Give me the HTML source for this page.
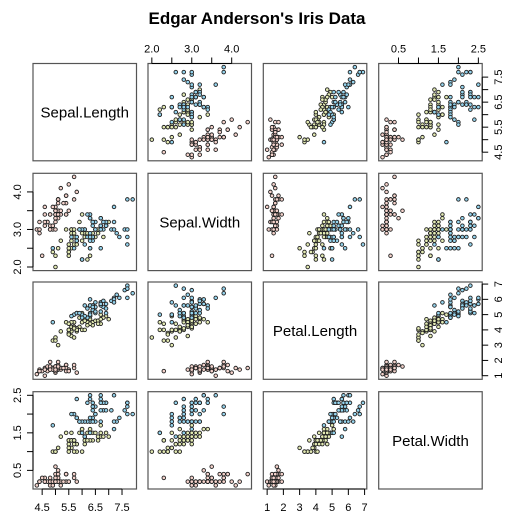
<!DOCTYPE html>
<html><head><meta charset="utf-8"><style>
body{margin:0;background:#fff}
svg{display:block;font-family:"Liberation Sans",Arial,sans-serif}
</style></head><body>
<svg id="c" width="514" height="525" viewBox="0 0 514 525">
<text x="257" y="24" text-anchor="middle" font-size="17" font-weight="bold">Edgar Anderson's Iris Data</text>
</svg>
<script>
const varNames=["Sepal.Length","Sepal.Width","Petal.Length","Petal.Width"];
const species=["setosa","versicolor","virginica"];
const speciesColors=["#f5d3cc","#e4ebb4","#95d4ee"];
const sepalLength=[5.1,4.9,4.7,4.6,5.0,5.4,4.6,5.0,4.4,4.9,5.4,4.8,4.8,4.3,5.8,5.7,5.4,5.1,5.7,5.1,5.4,5.1,4.6,5.1,4.8,5.0,5.0,5.2,5.2,4.7,4.8,5.4,5.2,5.5,4.9,5.0,5.5,4.9,4.4,5.1,5.0,4.5,4.4,5.0,5.1,4.8,5.1,4.6,5.3,5.0,
7.0,6.4,6.9,5.5,6.5,5.7,6.3,4.9,6.6,5.2,5.0,5.9,6.0,6.1,5.6,6.7,5.6,5.8,6.2,5.6,5.9,6.1,6.3,6.1,6.4,6.6,6.8,6.7,6.0,5.7,5.5,5.5,5.8,6.0,5.4,6.0,6.7,6.3,5.6,5.5,5.5,6.1,5.8,5.0,5.6,5.7,5.7,6.2,5.1,5.7,
6.3,5.8,7.1,6.3,6.5,7.6,4.9,7.3,6.7,7.2,6.5,6.4,6.8,5.7,5.8,6.4,6.5,7.7,7.7,6.0,6.9,5.6,7.7,6.3,6.7,7.2,6.2,6.1,6.4,7.2,7.4,7.9,6.4,6.3,6.1,7.7,6.3,6.4,6.0,6.9,6.7,6.9,5.8,6.8,6.7,6.7,6.3,6.5,6.2,5.9];
const sepalWidth=[3.5,3.0,3.2,3.1,3.6,3.9,3.4,3.4,2.9,3.1,3.7,3.4,3.0,3.0,4.0,4.4,3.9,3.5,3.8,3.8,3.4,3.7,3.6,3.3,3.4,3.0,3.4,3.5,3.4,3.2,3.1,3.4,4.1,4.2,3.1,3.2,3.5,3.6,3.0,3.4,3.5,2.3,3.2,3.5,3.8,3.0,3.8,3.2,3.7,3.3,
3.2,3.2,3.1,2.3,2.8,2.8,3.3,2.4,2.9,2.7,2.0,3.0,2.2,2.9,2.9,3.1,3.0,2.7,2.2,2.5,3.2,2.8,2.5,2.8,2.9,3.0,2.8,3.0,2.9,2.6,2.4,2.4,2.7,2.7,3.0,3.4,3.1,2.3,3.0,2.5,2.6,3.0,2.6,2.3,2.7,3.0,2.9,2.9,2.5,2.8,
3.3,2.7,3.0,2.9,3.0,3.0,2.5,2.9,2.5,3.6,3.2,2.7,3.0,2.5,2.8,3.2,3.0,3.8,2.6,2.2,3.2,2.8,2.8,2.7,3.3,3.2,2.8,3.0,2.8,3.0,2.8,3.8,2.8,2.8,2.6,3.0,3.4,3.1,3.0,3.1,3.1,3.1,2.7,3.2,3.3,3.0,2.5,3.0,3.4,3.0];
const petalLength=[1.4,1.4,1.3,1.5,1.4,1.7,1.4,1.5,1.4,1.5,1.5,1.6,1.4,1.1,1.2,1.5,1.3,1.4,1.7,1.5,1.7,1.5,1.0,1.7,1.9,1.6,1.6,1.5,1.4,1.6,1.6,1.5,1.5,1.4,1.5,1.2,1.3,1.4,1.3,1.5,1.3,1.3,1.3,1.6,1.9,1.4,1.6,1.4,1.5,1.4,
4.7,4.5,4.9,4.0,4.6,4.5,4.7,3.3,4.6,3.9,3.5,4.2,4.0,4.7,3.6,4.4,4.5,4.1,4.5,3.9,4.8,4.0,4.9,4.7,4.3,4.4,4.8,5.0,4.5,3.5,3.8,3.7,3.9,5.1,4.5,4.5,4.7,4.4,4.1,4.0,4.4,4.6,4.0,3.3,4.2,4.2,4.2,4.3,3.0,4.1,
6.0,5.1,5.9,5.6,5.8,6.6,4.5,6.3,5.8,6.1,5.1,5.3,5.5,5.0,5.1,5.3,5.5,6.7,6.9,5.0,5.7,4.9,6.7,4.9,5.7,6.0,4.8,4.9,5.6,5.8,6.1,6.4,5.6,5.1,5.6,6.1,5.6,5.5,4.8,5.4,5.6,5.1,5.1,5.9,5.7,5.2,5.0,5.2,5.4,5.1];
const petalWidth=[0.2,0.2,0.2,0.2,0.2,0.4,0.3,0.2,0.2,0.1,0.2,0.2,0.1,0.1,0.2,0.4,0.4,0.3,0.3,0.3,0.2,0.4,0.2,0.5,0.2,0.2,0.4,0.2,0.2,0.2,0.2,0.4,0.1,0.2,0.2,0.2,0.2,0.1,0.2,0.2,0.3,0.3,0.2,0.6,0.4,0.3,0.2,0.2,0.2,0.2,
1.4,1.5,1.5,1.3,1.5,1.3,1.6,1.0,1.3,1.4,1.0,1.5,1.0,1.4,1.3,1.4,1.5,1.0,1.5,1.1,1.8,1.3,1.5,1.2,1.3,1.4,1.4,1.7,1.5,1.0,1.1,1.0,1.2,1.6,1.5,1.6,1.5,1.3,1.3,1.3,1.2,1.4,1.2,1.0,1.3,1.2,1.3,1.3,1.1,1.3,
2.5,1.9,2.1,1.8,2.2,2.1,1.7,1.8,1.8,2.5,2.0,1.9,2.1,2.0,2.4,2.3,1.8,2.2,2.3,1.5,2.3,2.0,2.0,1.8,2.1,1.8,1.8,1.8,2.1,1.6,1.9,2.0,2.2,1.5,1.4,2.3,2.4,1.8,1.8,2.1,2.4,2.3,1.9,2.3,2.5,2.3,1.9,2.0,2.3,1.8];
const ticks=[[4.5,5,5.5,6,6.5,7,7.5],[2,2.5,3,3.5,4],[1,2,3,4,5,6,7],[0.5,1,1.5,2,2.5]];
const tickLabels=[["4.5","","5.5","","6.5","","7.5"],["2.0","","3.0","","4.0"],["1","2","3","4","5","6","7"],["0.5","","1.5","","2.5"]];

const cols=[sepalLength,sepalWidth,petalLength,petalWidth];
const NS="http://www.w3.org/2000/svg";
const svg=document.getElementById('c');
const PX=[33,148,263.3,378.7],PY=[63.5,173.3,282,391.7],PW=103.5,PH=97.3;
function mk(t,a,p){const e=document.createElementNS(NS,t);for(const k in a)e.setAttribute(k,a[k]);(p||svg).appendChild(e);return e;}
const rng=cols.map(v=>{const mn=Math.min(...v),mx=Math.max(...v),d=mx-mn;return [mn-0.04*d,mx+0.04*d];});
function sx(j,v){return PX[j]+(v-rng[j][0])/(rng[j][1]-rng[j][0])*PW;}
function sy(i,v){return PY[i]+PH-(v-rng[i][0])/(rng[i][1]-rng[i][0])*PH;}
const spIdx=k=>k<50?0:(k<100?1:2);
for(let i=0;i<4;i++)for(let j=0;j<4;j++){
  const g=mk('g',{});
  
  
  mk('rect',{x:PX[j],y:PY[i],width:PW,height:PH,fill:'#fff',stroke:'#555','stroke-width':1.2},g);
  if(i===j){
    const t=mk('text',{x:PX[j]+PW/2,y:PY[i]+PH/2+5.5,'text-anchor':'middle','font-size':15},g);
    t.textContent=varNames[i];
    
    
    continue;
  }
  const xs=cols[j],ys=cols[i];
  for(let k=0;k<150;k++){
    const c=mk('circle',{cx:sx(j,xs[k]).toFixed(2),cy:sy(i,ys[k]).toFixed(2),r:1.8,fill:speciesColors[spIdx(k)],stroke:'#222','stroke-width':0.9},g);
    
    
  }
}
function axisX(j,top){
  const y=top?PY[0]:PY[3]+PH;const d=top?-1:1;
  const g=mk('g',{stroke:'#000','stroke-width':1});
  
  
  const t=ticks[j];
  mk('line',{x1:sx(j,t[0]),x2:sx(j,t[t.length-1]),y1:y,y2:y},g);
  t.forEach((v,n)=>{const x=sx(j,v);mk('line',{x1:x,x2:x,y1:y,y2:y+6*d},g);
    if(tickLabels[j][n]){const tx=mk('text',{x:x,y:top?y-11:y+22,'text-anchor':'middle','font-size':11,stroke:'none',fill:'#000'},g);tx.textContent=tickLabels[j][n];}});
}
function axisY(i,left){
  const x=left?PX[0]:PX[3]+PW;const d=left?-1:1;
  const g=mk('g',{stroke:'#000','stroke-width':1});
  
  
  const t=ticks[i];
  mk('line',{y1:sy(i,t[0]),y2:sy(i,t[t.length-1]),x1:x,x2:x},g);
  t.forEach((v,n)=>{const y=sy(i,v);mk('line',{y1:y,y2:y,x1:x,x2:x+6*d},g);
    if(tickLabels[i][n]){const lx=left?x-12:x+20;const tx=mk('text',{x:lx,y:y,'text-anchor':'middle','font-size':11,stroke:'none',fill:'#000',transform:`rotate(-90 ${lx} ${y})`},g);tx.textContent=tickLabels[i][n];}});
}
axisX(1,true);axisX(3,true);axisX(0,false);axisX(2,false);
axisY(1,true);axisY(3,true);axisY(0,false);axisY(2,false);
</script>
</body></html>
